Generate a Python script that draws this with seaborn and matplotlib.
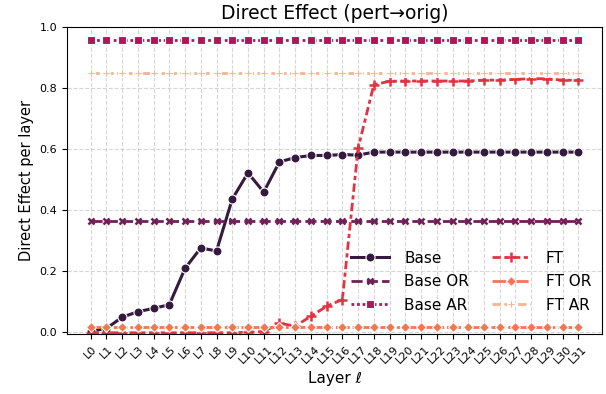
# Direct effect per layer (pert -> orig)
import pandas as pd
import numpy as np
import matplotlib
matplotlib.use("Agg")
import matplotlib.pyplot as plt
import seaborn as sns

# Data
layers = [f"L{i}" for i in range(32)]

base = [0.003, 0.012, 0.049, 0.067, 0.078, 0.090, 0.209, 0.276, 0.266, 0.436,
        0.522, 0.459, 0.558, 0.572, 0.579, 0.579, 0.582, 0.580, 0.590, 0.590,
        0.590, 0.590, 0.590, 0.590, 0.590, 0.590, 0.590, 0.590, 0.590, 0.590,
        0.590, 0.590]
base_or = [0.365] * 32
base_ar = [0.958] * 32
ft = [-0.002, -0.002, -0.002, -0.002, -0.002, -0.002, -0.002, -0.002, -0.002, -0.002,
      0.0, 0.002, 0.029, 0.020, 0.052, 0.085, 0.107, 0.603, 0.811, 0.822,
      0.823, 0.823, 0.823, 0.823, 0.823, 0.826, 0.826, 0.828, 0.831, 0.830,
      0.826, 0.825]
ft_or = [0.018] * 32
ft_ar = [0.848] * 32

series_names = ["Base", "Base OR", "Base AR", "FT", "FT OR", "FT AR"]
series_values = [base, base_or, base_ar, ft, ft_or, ft_ar]

# Long-format table for seaborn
df = pd.DataFrame({
    "layer": np.tile(np.arange(32), len(series_names)),
    "value": np.concatenate(series_values),
    "series": np.repeat(series_names, 32),
})

fig, ax = plt.subplots(figsize=(6.06, 3.94), dpi=100)

sns.lineplot(
    data=df, x="layer", y="value",
    hue="series", style="series",
    palette="rocket",
    markers=True, dashes=True,
    linewidth=2,
    legend=False,
    ax=ax,
)

# per-series marker look (seaborn won't mix filled and line-art markers)
marker_look = [("o", 6.5, 2.2), ("x", 5, 2.0), ("s", 5.5, 2.0),
               ("+", 6.5, 2.0), ("D", 5, 2.0), ("P", 6, 2.0)]
for line, name, (m, ms, lw) in zip(ax.lines, series_names, marker_look):
    line.set_label(name)
    line.set_marker(m)
    line.set_markersize(ms)
    line.set_linewidth(lw)
    line.set_markeredgewidth(1.8 if m in ("x", "+") else 0.8)
    line.set_markeredgecolor(line.get_color() if m in ("x", "+") else "white")

ax.set_xticks(range(32))
ax.set_xticklabels(layers, rotation=45, fontsize=8)
ax.tick_params(axis="y", labelsize=8)
ax.set_xlim(-1.5, 32.5)
ax.set_ylim(-0.006, 1.0)
ax.grid(True, linestyle="--", alpha=0.5)

ax.set_title("Direct Effect (pert\u2192orig)", fontsize=13.5)
ax.set_xlabel("Layer \u2113", fontsize=11)
ax.set_ylabel("Direct Effect per layer", fontsize=10.5)

ax.legend(ncol=2, fontsize=11, frameon=False, loc="lower right",
          bbox_to_anchor=(1.005, 0.025), columnspacing=1.5,
          handlelength=2.5, handletextpad=1.0, labelspacing=0.55)

fig.subplots_adjust(left=0.1106, right=0.9934, top=0.9315, bottom=0.1523)
fig.savefig("out.png", dpi=100)
